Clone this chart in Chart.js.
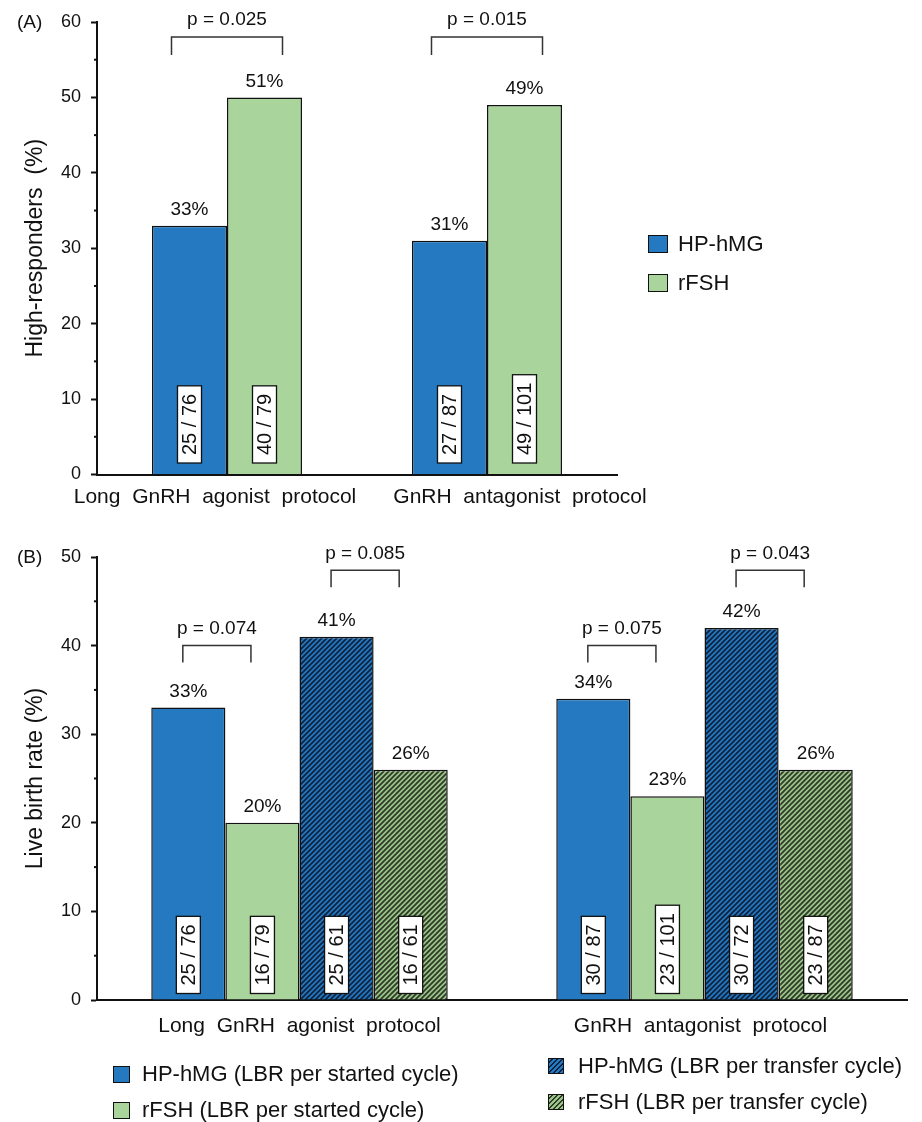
<!DOCTYPE html>
<html>
<head>
<meta charset="utf-8">
<script src="https://cdn.jsdelivr.net/npm/chart.js@4.4.1/dist/chart.umd.min.js"></script>
<style>
  body { margin: 0; background: #fff; font-family: "Liberation Sans", Arial, sans-serif; color: #111; }
  #wrap { position: relative; width: 922px; height: 1122px; overflow: hidden; }
  #chartA { position: absolute; left: 0; top: 0; }
  #chartB { position: absolute; left: 0; top: 520px; }
  .txt { position: absolute; font-size: 22px; line-height: 22px; white-space: pre; }
  .sw { position: absolute; border: 1.5px solid #111; box-sizing: border-box; }
</style>
</head>
<body>
<div id="wrap">
  <canvas id="chartA" width="922" height="520"></canvas>
  <canvas id="chartB" width="922" height="602"></canvas>

  <div class="txt" style="left:17px;top:11px;font-size:19px">(A)</div>
  <div class="txt" style="left:17px;top:546px;font-size:19px">(B)</div>

  <!-- legend, panel A -->
  <div class="sw" style="left:648px;top:235px;width:20px;height:18px;background:#2479c0"></div>
  <div class="txt" style="left:678px;top:233px">HP-hMG</div>
  <div class="sw" style="left:648px;top:274px;width:20px;height:18px;background:#a9d49b"></div>
  <div class="txt" style="left:678px;top:272px">rFSH</div>

  <!-- legend, panel B -->
  <div class="sw" style="left:113px;top:1066px;width:17px;height:17px;background:#2479c0"></div>
  <div class="txt" style="left:142px;top:1063px">HP-hMG (LBR per started cycle)</div>
  <div class="sw" style="left:113px;top:1102px;width:17px;height:17px;background:#a9d49b"></div>
  <div class="txt" style="left:142px;top:1099px">rFSH (LBR per started cycle)</div>
  <div class="sw" style="left:548px;top:1058px;width:16px;height:16px;background:repeating-linear-gradient(135deg,#2479c0 0 2px,#0f2340 2px 3.5px)"></div>
  <div class="txt" style="left:578px;top:1055px">HP-hMG (LBR per transfer cycle)</div>
  <div class="sw" style="left:548px;top:1094px;width:16px;height:16px;background:repeating-linear-gradient(135deg,#9cc58a 0 2px,#2d3b27 2px 3.5px)"></div>
  <div class="txt" style="left:578px;top:1091px">rFSH (LBR per transfer cycle)</div>
</div>

<script>
// Panel A: high-responders
const CATS_A = ['Long  GnRH  agonist  protocol', 'GnRH  antagonist  protocol'];
const HMG_A = [33, 31];
const RFSH_A = [50, 49];
const HMG_A_PCT = ['33%', '31%'];
const RFSH_A_PCT = ['51%', '49%'];
const HMG_A_N = ['25 / 76', '27 / 87'];
const RFSH_A_N = ['40 / 79', '49 / 101'];
const P_A = ['p = 0.025', 'p = 0.015'];

// Panel B: live birth rate
const CATS_B = ['Long  GnRH  agonist  protocol', 'GnRH  antagonist  protocol'];
const HMG_START = [33, 34];
const RFSH_START = [20, 23];
const HMG_TRANSFER = [41, 42];
const RFSH_TRANSFER = [26, 26];
const HMG_START_N = ['25 / 76', '30 / 87'];
const RFSH_START_N = ['16 / 79', '23 / 101'];
const HMG_TRANSFER_N = ['25 / 61', '30 / 72'];
const RFSH_TRANSFER_N = ['16 / 61', '23 / 87'];
const P_B_START = ['p = 0.074', 'p = 0.075'];
const P_B_TRANSFER = ['p = 0.085', 'p = 0.043'];

const FONT = '"Liberation Sans", Arial, sans-serif';
const INK = '#111';
const BLUE = '#2479c0';
const GREEN = '#a9d49b';

function hatch(bg, fg) {
  const s = 5;
  const c = document.createElement('canvas');
  c.width = c.height = s;
  const g = c.getContext('2d');
  g.fillStyle = bg;
  g.fillRect(0, 0, s, s);
  g.strokeStyle = fg;
  g.lineWidth = 1.8;
  g.beginPath();
  g.moveTo(0, s); g.lineTo(s, 0);
  g.moveTo(-1, 1); g.lineTo(1, -1);
  g.moveTo(s - 1, s + 1); g.lineTo(s + 1, s - 1);
  g.stroke();
  return g.createPattern(c, 'repeat');
}

function pct(arr) { return arr.map(v => v + '%'); }

// labels, count boxes, p-value brackets, category names, minor ticks
const annot = {
  id: 'annot',
  afterDraw(chart, args, o) {
    const ctx = chart.ctx;
    const xs = chart.scales.x, ys = chart.scales.y, area = chart.chartArea;
    ctx.save();
    ctx.strokeStyle = INK;
    ctx.fillStyle = INK;

    // minor ticks
    ctx.lineWidth = 2;
    for (let v = 5; v < ys.max; v += 10) {
      const py = ys.getPixelForValue(v);
      ctx.beginPath(); ctx.moveTo(area.left - 3, py); ctx.lineTo(area.left, py); ctx.stroke();
    }

    chart.data.datasets.forEach((ds, di) => {
      chart.getDatasetMeta(di).data.forEach((bar, i) => {
        ctx.fillStyle = INK;
        ctx.font = '19px ' + FONT;
        ctx.textAlign = 'center';
        ctx.textBaseline = 'middle';
        ctx.fillText(ds.pct[i], bar.x, bar.y - 16);

        const t = ds.counts[i];
        ctx.font = '20px ' + FONT;
        const len = ctx.measureText(t).width + 16;
        const bottom = bar.base - o.boxGap;
        ctx.fillStyle = '#fff';
        ctx.lineWidth = 1.3;
        ctx.fillRect(bar.x - 12, bottom - len, 24, len);
        ctx.strokeRect(bar.x - 12, bottom - len, 24, len);
        ctx.save();
        ctx.translate(bar.x, bottom - len / 2);
        ctx.rotate(-Math.PI / 2);
        ctx.fillStyle = INK;
        ctx.fillText(t, 0, 1);
        ctx.restore();
      });
    });

    // p-value brackets
    ctx.lineWidth = 1.5;
    ctx.strokeStyle = '#333';
    for (const b of o.brackets) {
      const ma = chart.getDatasetMeta(b.a).data, mb = chart.getDatasetMeta(b.b).data;
      ma.forEach((bar, i) => {
        const x1 = bar.x + o.inset[0], x2 = mb[i].x + o.inset[1];
        const py = ys.getPixelForValue(b.level[i]);
        ctx.beginPath();
        ctx.moveTo(x1, py + o.leg); ctx.lineTo(x1, py); ctx.lineTo(x2, py); ctx.lineTo(x2, py + o.leg);
        ctx.stroke();
        ctx.fillStyle = INK;
        ctx.font = '19px ' + FONT;
        ctx.textAlign = 'center';
        ctx.textBaseline = 'middle';
        ctx.fillText(b.texts[i], (x1 + x2) / 2, py - 17);
      });
    }

    // category names
    ctx.font = '21px ' + FONT;
    ctx.textAlign = 'center';
    ctx.textBaseline = 'middle';
    chart.data.labels.forEach((lab, i) => {
      ctx.fillText(lab, xs.getPixelForValue(i) + o.catShift[i], area.bottom + o.catGap);
    });
    ctx.restore();
  }
};

function yAxis(max, title) {
  return {
    min: 0, max: max,
    ticks: {
      stepSize: 5,
      autoSkip: false,
      callback: v => (v % 10 === 0 ? v : ''),
      font: { size: 18, family: FONT },
      color: INK,
      padding: 10,
    },
    grid: {
      drawOnChartArea: false,
      tickLength: 6,
      tickWidth: 2,
      tickColor: c => (c.tick && c.tick.value % 10 === 0 ? INK : 'rgba(0,0,0,0)'),
    },
    border: { color: INK, width: 2 },
    title: {
      display: true, text: title, color: INK,
      font: { size: 23, family: FONT },
      padding: { top: 22, bottom: 0 },
    },
    afterFit(s) { s.width = 97; },
  };
}

function xAxis(h) {
  return {
    ticks: { display: false },
    grid: { display: false },
    border: { color: INK, width: 2 },
    afterFit(s) { s.height = h; },
  };
}

const bar = { borderColor: INK, borderWidth: 1.5, barPercentage: 1 };

new Chart(document.getElementById('chartA'), {
  type: 'bar',
  data: {
    labels: CATS_A,
    datasets: [
      { ...bar, label: 'HP-hMG', data: HMG_A, backgroundColor: BLUE, pct: HMG_A_PCT, counts: HMG_A_N, categoryPercentage: 0.577 },
      { ...bar, label: 'rFSH', data: RFSH_A, backgroundColor: GREEN, pct: RFSH_A_PCT, counts: RFSH_A_N, categoryPercentage: 0.577 },
    ],
  },
  options: {
    responsive: false,
    animation: false,
    layout: { padding: { top: 22, right: 305, left: 0, bottom: 0 } },
    plugins: {
      legend: { display: false },
      tooltip: { enabled: false },
      annot: {
        boxGap: 11, catGap: 23, catShift: [-12, 33],
        inset: [-18, 18], leg: 18,
        brackets: [{ a: 0, b: 1, texts: P_A, level: [58, 58] }],
      },
    },
    scales: { x: xAxis(45.5), y: yAxis(60, 'High-responders  (%)') },
  },
  plugins: [annot],
});

new Chart(document.getElementById('chartB'), {
  type: 'bar',
  data: {
    labels: CATS_B,
    datasets: [
      { ...bar, label: 'HP-hMG (LBR per started cycle)', data: HMG_START, backgroundColor: BLUE,
        pct: pct(HMG_START), counts: HMG_START_N, categoryPercentage: 0.732 },
      { ...bar, label: 'rFSH (LBR per started cycle)', data: RFSH_START, backgroundColor: GREEN,
        pct: pct(RFSH_START), counts: RFSH_START_N, categoryPercentage: 0.732 },
      { ...bar, label: 'HP-hMG (LBR per transfer cycle)', data: HMG_TRANSFER, backgroundColor: hatch(BLUE, '#0f2340'),
        pct: pct(HMG_TRANSFER), counts: HMG_TRANSFER_N, categoryPercentage: 0.732 },
      { ...bar, label: 'rFSH (LBR per transfer cycle)', data: RFSH_TRANSFER, backgroundColor: hatch('#9cc58a', '#2d3b27'),
        pct: pct(RFSH_TRANSFER), counts: RFSH_TRANSFER_N, categoryPercentage: 0.732 },
    ],
  },
  options: {
    responsive: false,
    animation: false,
    layout: { padding: { top: 37, right: 15, left: 0, bottom: 0 } },
    plugins: {
      legend: { display: false },
      tooltip: { enabled: false },
      annot: {
        boxGap: 6, catGap: 26, catShift: [0, -4],
        inset: [-5.5, -11.5], leg: 17,
        brackets: [
          { a: 0, b: 1, texts: P_B_START, level: [40, 40] },
          { a: 2, b: 3, texts: P_B_TRANSFER, level: [48.5, 48.5] },
        ],
      },
    },
    scales: { x: xAxis(122), y: yAxis(50, 'Live birth rate (%)') },
  },
  plugins: [annot],
});
</script>
</body>
</html>
